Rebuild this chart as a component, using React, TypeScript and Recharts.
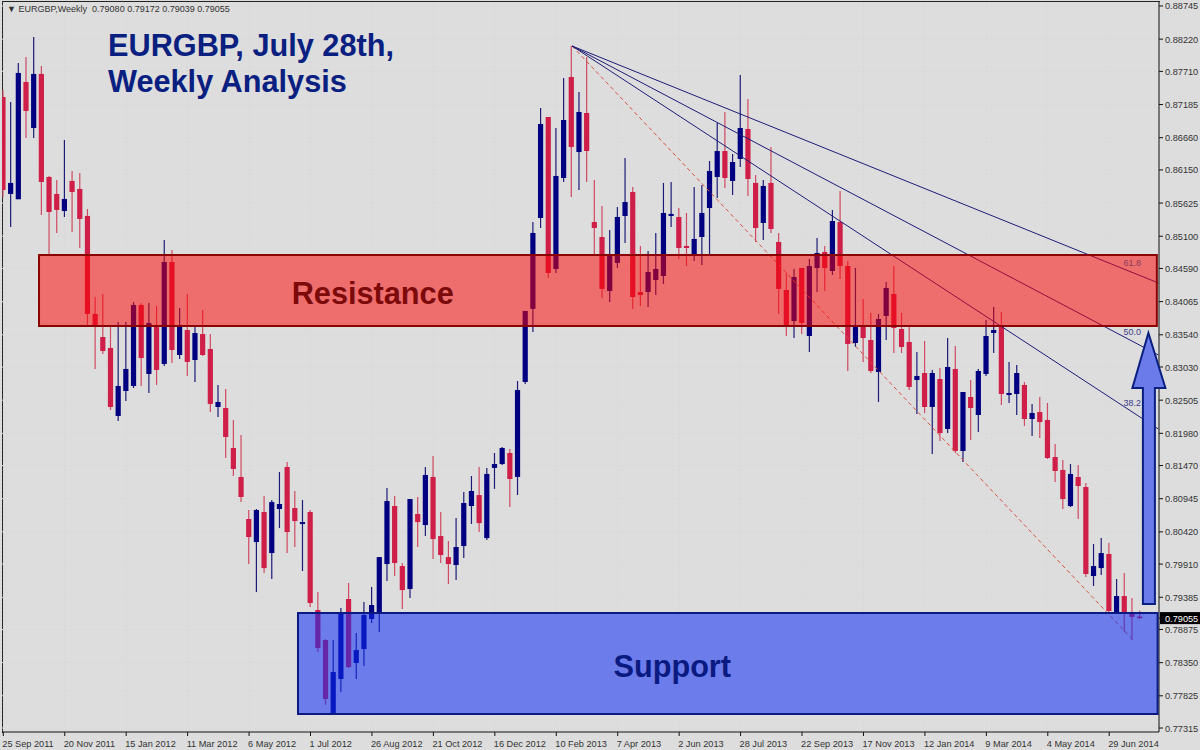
import { ComposedChart, Bar, XAxis, YAxis, CartesianGrid, ReferenceArea, ReferenceLine, ReferenceDot } from "recharts";

const opens = [
  0.87304, 0.85769, 0.85685, 0.87542, 0.86813, 0.87669, 0.86038, 0.85769, 0.85500, 0.85975,
  0.85849, 0.85421, 0.83870, 0.83505, 0.83331, 0.82255, 0.82650, 0.82730, 0.84012, 0.82920,
  0.83663, 0.83078, 0.84692, 0.83220, 0.83616, 0.83141, 0.83552, 0.83315, 0.82397, 0.82381,
  0.81748, 0.81289, 0.80624, 0.80259, 0.80734, 0.80085, 0.80782, 0.81447, 0.80797, 0.80544,
  0.80734, 0.79183, 0.78708, 0.77553, 0.78091, 0.79357, 0.78344, 0.78565, 0.79041, 0.79120,
  0.79911, 0.80829, 0.79879, 0.79515, 0.80703, 0.80528, 0.81289, 0.80354, 0.80021, 0.79895,
  0.80196, 0.80829, 0.81003, 0.80322, 0.81432, 0.81494, 0.81669, 0.81289, 0.82793, 0.83949,
  0.85389, 0.86988, 0.84582, 0.86022, 0.87621, 0.86433, 0.87051, 0.85325, 0.85088, 0.84233,
  0.84677, 0.85421, 0.85800, 0.84217, 0.84217, 0.84408, 0.84471, 0.85421, 0.85405, 0.84946,
  0.84803, 0.85088, 0.85547, 0.86038, 0.86449, 0.85975, 0.86324, 0.86798, 0.85944, 0.85310,
  0.85944, 0.85009, 0.84249, 0.83758, 0.84598, 0.83521, 0.84598, 0.84851, 0.84550, 0.85325,
  0.84629, 0.83410, 0.83679, 0.83458, 0.82951, 0.83838, 0.84186, 0.83632, 0.83426, 0.82824,
  0.82935, 0.82397, 0.82840, 0.82049, 0.82999, 0.81700, 0.82555, 0.82270, 0.82920, 0.83568,
  0.83663, 0.82587, 0.82603, 0.82746, 0.82207, 0.82318, 0.82191, 0.81605, 0.81400, 0.80829,
  0.81289, 0.81130, 0.79721, 0.79847, 0.80070, 0.79136, 0.79404, 0.79136, 0.79080,
];
const highs = [
  0.87415, 0.87225, 0.87843, 0.87937, 0.88254, 0.87795, 0.86054, 0.85991, 0.86624, 0.86133,
  0.86102, 0.85532, 0.84138, 0.84186, 0.83663, 0.83742, 0.83742, 0.84059, 0.84044, 0.84044,
  0.83996, 0.85041, 0.84882, 0.83964, 0.84186, 0.83663, 0.83933, 0.83552, 0.82746, 0.82683,
  0.82191, 0.81954, 0.80766, 0.80782, 0.80988, 0.80924, 0.81368, 0.81526, 0.81067, 0.80924,
  0.80766, 0.79467, 0.78724, 0.78708, 0.79214, 0.79611, 0.78819, 0.79309, 0.79547, 0.80021,
  0.81115, 0.80988, 0.79927, 0.80940, 0.80972, 0.81447, 0.81621, 0.80734, 0.80275, 0.80639,
  0.81051, 0.81305, 0.81447, 0.81432, 0.81669, 0.81764, 0.81732, 0.82809, 0.83917, 0.85325,
  0.87130, 0.86988, 0.86813, 0.87605, 0.88112, 0.87383, 0.87937, 0.85991, 0.85579, 0.85199,
  0.85563, 0.86338, 0.85880, 0.84946, 0.84866, 0.85152, 0.85944, 0.85959, 0.85547, 0.85468,
  0.85880, 0.85911, 0.86291, 0.86893, 0.87067, 0.86402, 0.87653, 0.87273, 0.86070, 0.85991,
  0.86513, 0.85152, 0.84519, 0.84582, 0.84598, 0.84740, 0.85072, 0.84946, 0.85516, 0.85816,
  0.84708, 0.84598, 0.84106, 0.83885, 0.83870, 0.84376, 0.84629, 0.83885, 0.83679, 0.83267,
  0.83442, 0.82983, 0.83014, 0.83489, 0.83362, 0.82634, 0.82824, 0.82999, 0.83774, 0.83980,
  0.83901, 0.83110, 0.83062, 0.82793, 0.82445, 0.82555, 0.82460, 0.81811, 0.81558, 0.81494,
  0.81479, 0.81194, 0.80228, 0.80322, 0.80244, 0.79674, 0.79769, 0.79373, 0.79172,
];
const lows = [
  0.85721, 0.85246, 0.85959, 0.86655, 0.86655, 0.85437, 0.84803, 0.85152, 0.85405, 0.85168,
  0.84914, 0.83695, 0.82999, 0.83236, 0.82350, 0.82175, 0.82492, 0.82698, 0.82730, 0.82619,
  0.82746, 0.83046, 0.83094, 0.83157, 0.82888, 0.82793, 0.83204, 0.82318, 0.82239, 0.81589,
  0.81305, 0.80892, 0.79911, 0.79467, 0.79769, 0.79674, 0.80480, 0.80085, 0.80180, 0.79800,
  0.79230, 0.78517, 0.77679, 0.77537, 0.77884, 0.78264, 0.78091, 0.78296, 0.78978, 0.78835,
  0.79642, 0.79721, 0.79199, 0.79373, 0.80180, 0.80354, 0.79990, 0.79927, 0.79595, 0.79658,
  0.80006, 0.80544, 0.80417, 0.80291, 0.81100, 0.81479, 0.80813, 0.81003, 0.82761, 0.83584,
  0.85230, 0.84439, 0.84519, 0.85959, 0.85721, 0.85832, 0.85959, 0.84819, 0.84122, 0.84059,
  0.84598, 0.84994, 0.83949, 0.83996, 0.83980, 0.84170, 0.84345, 0.85246, 0.84740, 0.84629,
  0.84708, 0.84645, 0.84803, 0.85705, 0.85864, 0.85753, 0.86198, 0.85737, 0.85009, 0.85041,
  0.85152, 0.83870, 0.83521, 0.83489, 0.83552, 0.83267, 0.84217, 0.84233, 0.84487, 0.84423,
  0.82967, 0.83347, 0.83110, 0.82935, 0.82476, 0.83458, 0.83252, 0.83252, 0.82666, 0.82286,
  0.82302, 0.81653, 0.81858, 0.81985, 0.81669, 0.81526, 0.81874, 0.82001, 0.82888, 0.83252,
  0.82429, 0.82460, 0.82270, 0.82096, 0.81938, 0.81906, 0.81574, 0.81210, 0.80782, 0.80813,
  0.80624, 0.79705, 0.79563, 0.79737, 0.79151, 0.79120, 0.78835, 0.78708, 0.79039,
];
const closes = [
  0.85832, 0.85944, 0.87685, 0.87083, 0.87669, 0.85959, 0.85484, 0.85516, 0.85690, 0.85800,
  0.85374, 0.83870, 0.83663, 0.83283, 0.82397, 0.82730, 0.82999, 0.84012, 0.83172, 0.83727,
  0.82983, 0.84692, 0.83299, 0.83679, 0.83110, 0.83568, 0.83220, 0.82445, 0.82476, 0.81922,
  0.81416, 0.80972, 0.80338, 0.80766, 0.79847, 0.80892, 0.80861, 0.80417, 0.80591, 0.80575,
  0.79294, 0.78581, 0.77774, 0.78201, 0.79136, 0.78280, 0.78549, 0.79104, 0.79262, 0.80021,
  0.80908, 0.79927, 0.79499, 0.80940, 0.80575, 0.81321, 0.80306, 0.80053, 0.79911, 0.80180,
  0.80877, 0.81067, 0.80559, 0.81337, 0.81494, 0.81748, 0.81257, 0.82666, 0.83917, 0.85152,
  0.86877, 0.84519, 0.86054, 0.86940, 0.86513, 0.87067, 0.86449, 0.85230, 0.84266, 0.84803,
  0.85405, 0.85642, 0.84138, 0.84170, 0.84534, 0.84582, 0.85468, 0.85453, 0.84914, 0.84914,
  0.85057, 0.85468, 0.86133, 0.86449, 0.86022, 0.86275, 0.86813, 0.86006, 0.85230, 0.85896,
  0.85215, 0.84266, 0.83695, 0.84455, 0.83727, 0.84629, 0.84835, 0.84598, 0.85341, 0.84629,
  0.83394, 0.83679, 0.83489, 0.82967, 0.83790, 0.84281, 0.83647, 0.83347, 0.82714, 0.82888,
  0.82397, 0.82935, 0.81985, 0.83030, 0.81700, 0.82634, 0.82381, 0.82967, 0.83521, 0.83616,
  0.82603, 0.82619, 0.82935, 0.82207, 0.82302, 0.82159, 0.81589, 0.81384, 0.80940, 0.81337,
  0.81146, 0.79753, 0.79879, 0.80085, 0.79167, 0.79404, 0.79136, 0.79073, 0.79055,
];

const dateLabels = [
  "25 Sep 2011", "20 Nov 2011", "15 Jan 2012", "11 Mar 2012", "6 May 2012", "1 Jul 2012", "26 Aug 2012",
  "21 Oct 2012", "16 Dec 2012", "10 Feb 2013", "7 Apr 2013", "2 Jun 2013", "28 Jul 2013", "22 Sep 2013",
  "17 Nov 2013", "12 Jan 2014", "9 Mar 2014", "4 May 2014", "29 Jun 2014",
];
const priceTicks = [
  0.88745, 0.8822, 0.8771, 0.87185, 0.8666, 0.8615, 0.85625, 0.851, 0.8459, 0.84065, 0.8354, 0.8303,
  0.82505, 0.8198, 0.8147, 0.80945, 0.8042, 0.7991, 0.79385, 0.78875, 0.7835, 0.77825, 0.77315,
];
const lastPrice = 0.79055;

// fan and channel drawn in chart units: candle index and price
const fanStart = { x: 74.05, y: 0.88112 };
const fanEnds = [
  { level: "61.8", x: 150.4, y: 0.8436, labelY: 0.84677, labelFill: "#8a3a58" },
  { level: "50.0", x: 150.4, y: 0.8322, labelY: 0.83584, labelFill: "#3d3d8a" },
  { level: "38.2", x: 150.4, y: 0.82048, labelY: 0.8246, labelFill: "#3d3d8a" },
];
const channelEnd = { x: 147.1, y: 0.78708 };

const candles = opens.map((open, i) => ({
  index: i,
  open,
  high: highs[i],
  low: lows[i],
  close: closes[i],
}));
const dateTicks = dateLabels.map((_, i) => i * 8);

const RED = "#cf1f48";
const NAVY = "#000080";
const AXIS_FONT = "'Liberation Sans', Arial, sans-serif";

const Candle = (props: any) => {
  const { x, y, width, height, payload } = props;
  const range = payload.high - payload.low;
  const perUnit = height / range;
  const cx = x + width / 2;
  const isUp = payload.close > payload.open;
  const top = y + (payload.high - Math.max(payload.open, payload.close)) * perUnit;
  const bottom = y + (payload.high - Math.min(payload.open, payload.close)) * perUnit;
  const color = isUp ? NAVY : RED;
  return (
    <g>
      <line x1={cx} x2={cx} y1={y} y2={y + height} stroke={isUp ? "#1c1c78" : "#cf4a62"} strokeWidth={1.2} />
      <rect x={cx - 2.6} y={top} width={5.2} height={Math.max(bottom - top, 1.5)} fill={color} />
    </g>
  );
};

const DateTick = ({ x, y, payload }: any) => (
  <g>
    <line x1={x} x2={x} y1={y - 8} y2={y - 4} stroke="#111" />
    <text x={x - 1} y={y + 7} textAnchor="start" fontSize={9.2} fontFamily={AXIS_FONT} fill="#333">
      {dateLabels[payload.value / 8]}
    </text>
  </g>
);

const PriceTick = ({ x, y, payload }: any) => {
  if (payload.value === lastPrice) {
    return (
      <g>
        <rect x={x - 5} y={y - 6} width={45} height={12} fill="#000" />
        <text x={x} y={y + 3.5} fontSize={9.2} fontFamily={AXIS_FONT} fill="#fff">
          {payload.value.toFixed(5)}
        </text>
      </g>
    );
  }
  return (
    <text x={x} y={y + 3.5} fontSize={9.2} fontFamily={AXIS_FONT} fill="#333">
      {payload.value.toFixed(5)}
    </text>
  );
};

// up arrow, anchored on its base at the target price
const UpArrow = ({ cx, cy }: any) => {
  const d = `M${cx - 5.5} ${cy} L${cx - 5.5} ${cy - 216} L${cx - 16} ${cy - 216} L${cx} ${cy - 271} L${cx + 17} ${cy - 216} L${cx + 6.5} ${cy - 216} L${cx + 6.5} ${cy} Z`;
  return <path d={d} fill="#6b7bea" stroke="#0a1f80" strokeWidth={2} />;
};

export default function App() {
  return (
    <div style={{ position: "absolute", left: 0, top: 0, width: 1200, height: 750, background: "#dddddd", overflow: "hidden" }}>
      <div style={{ position: "absolute", left: 2, top: 1, width: 1157, height: 731, borderLeft: "1px solid #222", borderTop: "1px solid #222" }} />
      <ComposedChart width={1200} height={750} data={candles} margin={{ top: 2, right: 0, bottom: 0, left: 2 }}>
        <CartesianGrid stroke="#d3d3d3" strokeDasharray="1 3" verticalValues={dateTicks} horizontalValues={priceTicks} />
        <XAxis
          type="number"
          dataKey="index"
          domain={[-0.17, 150.48]}
          allowDataOverflow
          ticks={dateTicks}
          interval={0}
          height={18}
          stroke="#111"
          tickLine={false}
          tick={<DateTick />}
        />
        <YAxis
          orientation="right"
          domain={[0.77252, 0.88808]}
          allowDataOverflow
          ticks={[...priceTicks, lastPrice]}
          interval={0}
          width={41}
          stroke="#111"
          tickSize={4}
          tickMargin={2}
          tick={<PriceTick />}
        />
        <Bar dataKey={(d: any) => [d.low, d.high]} barSize={5} shape={<Candle />} isAnimationActive={false} />
        <ReferenceLine
          segment={[fanStart, channelEnd]}
          stroke="#d9533f"
          strokeDasharray="4 3"
          zIndex={450}
        />
        {fanEnds.map((f) => (
          <ReferenceLine key={f.level} segment={[fanStart, { x: f.x, y: f.y }]} stroke="#1d1d78" strokeWidth={1} zIndex={450} />
        ))}
        <ReferenceArea x1={4.65} x2={150.2} y1={0.83679} y2={0.84803} fill="#ff0000" fillOpacity={0.5} stroke="#8b0000" strokeWidth={2} ifOverflow="visible" zIndex={500} />
        <ReferenceArea x1={38.37} x2={150.3} y1={0.77537} y2={0.79136} fill="#0e2bf6" fillOpacity={0.55} stroke="#0a1a80" strokeWidth={2} ifOverflow="visible" zIndex={500} />
        {fanEnds.map((f) => (
          <ReferenceDot
            key={f.level}
            x={147}
            y={f.labelY}
            r={0}
            stroke="none"
            zIndex={600}
            label={{ value: f.level, position: "center", fontSize: 9, fill: f.labelFill, fontFamily: AXIS_FONT }}
          />
        ))}
        <ReferenceDot
          x={48.1}
          y={0.84202}
          r={0}
          stroke="none"
          zIndex={600}
          label={{ value: "Resistance", position: "center", fontSize: 30.7, fontWeight: 700, fill: "#7d0a0a", fontFamily: AXIS_FONT }}
        />
        <ReferenceDot
          x={87.1}
          y={0.78296}
          r={0}
          stroke="none"
          zIndex={600}
          label={{ value: "Support", position: "center", fontSize: 30.7, fontWeight: 700, fill: "#0a1a80", fontFamily: AXIS_FONT }}
        />
        <ReferenceDot x={149.1} y={0.79278} shape={<UpArrow />} zIndex={600} />
      </ComposedChart>
      <div style={{ position: "absolute", left: 7, top: 4, fontSize: 9, fontFamily: AXIS_FONT, color: "#333", whiteSpace: "pre" }}>
        {"▼ EURGBP,Weekly  0.79080 0.79172 0.79039 0.79055"}
      </div>
      <div style={{ position: "absolute", left: 108, top: 28, fontSize: 30.7, lineHeight: "36px", fontWeight: 700, fontFamily: AXIS_FONT, color: "#0a2080" }}>
        EURGBP, July 28th,
        <br />
        Weekly Analysis
      </div>
    </div>
  );
}
